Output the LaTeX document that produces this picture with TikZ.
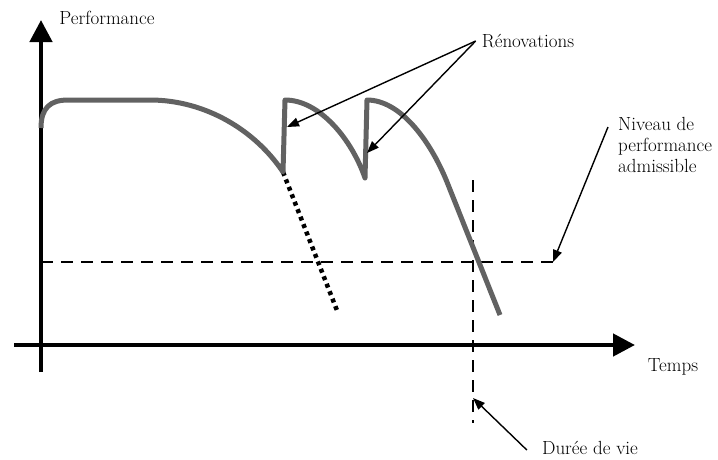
\documentclass[tikz,border=0pt]{standalone}
\usepackage{tikz}
\usetikzlibrary{arrows.meta,calc}
\definecolor{crv}{RGB}{98,98,98}

\begin{document}
\begin{tikzpicture}[
  x=1pt,y=-1pt,
  every node/.style={font=\fontsize{19}{21}\selectfont,inner sep=3pt},
  ax/.style  ={line width=4.5pt,-{Triangle[length=22pt,width=22pt]}},
  cv/.style  ={line width=5pt,crv,line join=round},
  lim/.style ={line width=2.8pt,dash pattern=on 12pt off 8pt},
  dots/.style={line width=4.5pt,dash pattern=on 4pt off 4pt},
  ann/.style ={line width=1.4pt,-{Triangle[length=12pt,width=9pt]}}]

  \useasboundingbox (0,0) rectangle (718,459);

  % ===== AXES =====
  \coordinate (ybot) at ( 41,372);
  \coordinate (ytop) at ( 41, 20);
  \coordinate (xlft) at ( 14,345);
  \coordinate (xrgt) at (635,345);
  \draw[ax] (ybot) -- (ytop);
  \draw[ax] (xlft) -- (xrgt);
  \node (perf)  at (107, 18) {Performance};
  \node (temps) at (673,367) {Temps};

  % ===== LIMITS: admissible level and service life =====
  \coordinate (lvl0) at ( 41,262);
  \coordinate (lvl1) at (553,262);
  \coordinate (life0) at (473,180);
  \coordinate (life1) at (473,423);
  \draw[lim] (lvl0) -- (lvl1);
  \draw[lim] (life0) -- (life1);

  % ===== PERFORMANCE CURVE =====
  % without renovation: dotted continuation
  \coordinate (r1low) at (283,172);
  \coordinate (r1top) at (285,100);
  \coordinate (r2low) at (365,178);
  \coordinate (r2top) at (367,100);
  \draw[dots] (r1low) -- (338,313);
  \draw[cv] (41,128) .. controls (41,108) and (50,100) .. (68,100)
            -- (150,100) .. controls (205,100) and (255,130) .. (r1low)
            -- (r1top) .. controls (320,100) and (352,140) .. (r2low)
            -- (r2top) .. controls (400,100) and (430,140) .. (447,182)
            -- (500,315);

  % ===== LABELS AND POINTERS =====
  \node (reno) at (528, 41) {Rénovations};
  \node[anchor=west,align=left] (niv) at (615,145)
    {Niveau de\\performance\\admissible};
  \node (duree) at (590,448) {Durée de vie};
  \coordinate (tip1) at (287,127);
  \coordinate (tip2) at (367,153);
  \coordinate (tip3) at (473,398);

  \draw[ann] ([xshift=-3pt]reno.west) -- (tip1);
  \draw[ann] ([xshift=-3pt]reno.west) -- (tip2);
  \draw[ann] ([shift={(-7,-18)}]niv.west) -- (lvl1);
  \draw[ann] ([shift={(-12,2)}]duree.west) -- (tip3);

\end{tikzpicture}
\end{document}
